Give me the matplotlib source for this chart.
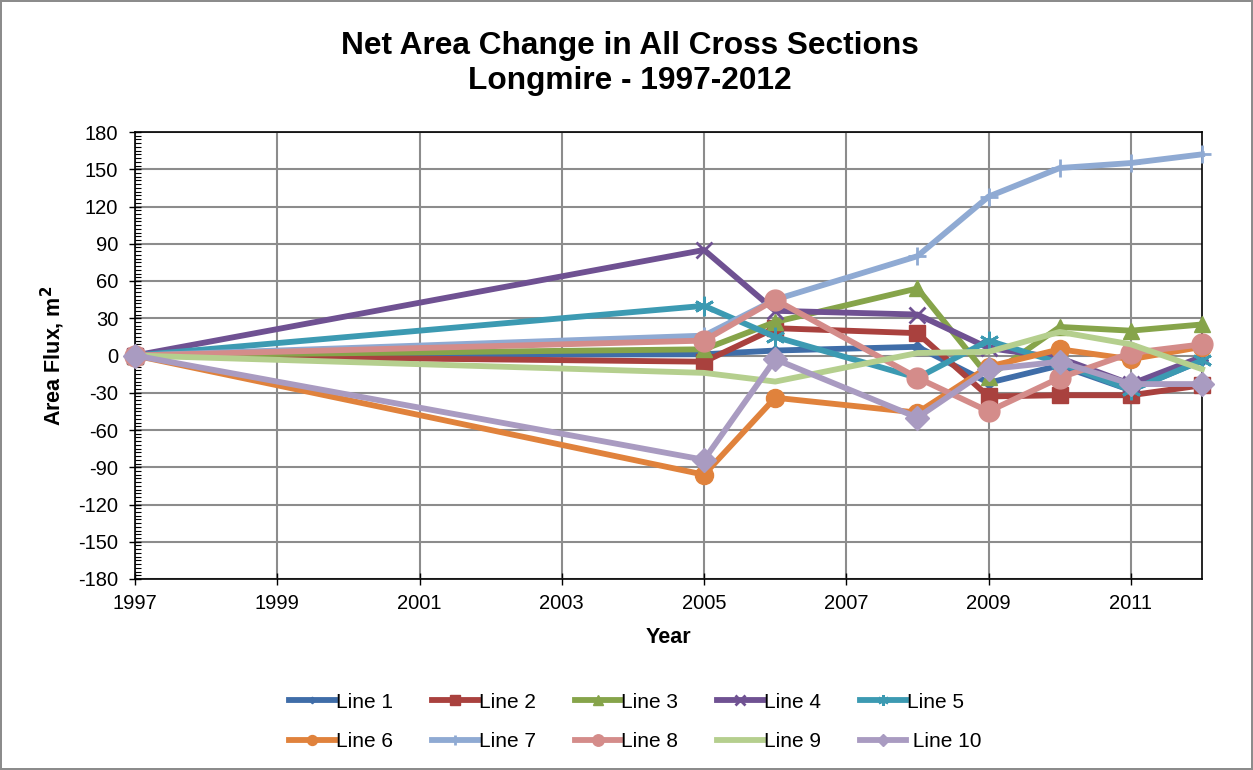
import matplotlib
matplotlib.use("Agg")
import matplotlib.pyplot as plt
from matplotlib.ticker import MultipleLocator

years = [1997, 2005, 2006, 2008, 2009, 2010, 2011, 2012]

line1 = [0, 1, 4, 7, -22, -8, -28, -4]
line2 = [0, -5, 22, 18, -33, -32, -32, -24]
line3 = [0, 5, 27, 54, -17, 23, 20, 25]
line4 = [0, 85, 36, 33, 6, -2, -23, -1]
line5 = [0, 40, 15, -18, 12, -6, -28, -4]
line6 = [0, -96, -34, -46, -9, 5, -3, 7]
line7 = [0, 16, 45, 80, 128, 151, 155, 162]
line8 = [0, 12, 45, -18, -45, -18, 2, 9]
line9 = [0, -14, -21, 2, 3, 19, 9, -11]
line10 = [0, -84, -3, -50, -11, -5, -23, -23]

labels = ["Line 1", "Line 2", "Line 3", "Line 4", "Line 5",
          "Line 6", "Line 7", "Line 8", "Line 9", " Line 10"]
series = [line1, line2, line3, line4, line5, line6, line7, line8, line9, line10]

colors = ["#3F6DA8", "#A9413E", "#86A44A", "#6F5192", "#3C9AB2",
          "#E0823C", "#8FAAD3", "#D48C8A", "#B5CF8E", "#A99BC1"]
markers = ["D", "s", "^", "x", (6, 2, 0), "o", "+", "o", "None", "D"]
msizes = [6, 12, 12, 12, 14, 13, 13, 15, 0, 12]

plt.rcParams['font.family'] = ['Liberation Sans', 'DejaVu Sans']
plt.rcParams['axes.unicode_minus'] = False

fig = plt.figure(figsize=(12.53, 7.70), dpi=100)
fig.patch.set_edgecolor("#8C8C8C")
fig.patch.set_linewidth(1.5)

ax = fig.add_axes([135/1253, 1 - 579/770, (1202-135)/1253, (579-132)/770])

for s, lab, c, m, ms in zip(series, labels, colors, markers, msizes):
    mew = 2 if m in ("x", "+") or isinstance(m, tuple) else 1
    ax.plot(years, s, color=c, lw=4.2, marker=m, markersize=ms,
            markeredgewidth=mew, markeredgecolor=c, markerfacecolor=c,
            label=lab, solid_joinstyle="round", clip_on=False, zorder=3)

ax.set_xlim(1997, 2012)
ax.set_ylim(-180, 180)
ax.set_xticks(list(range(1997, 2012, 2)))
ax.set_yticks(list(range(-180, 181, 30)))
ax.yaxis.set_minor_locator(MultipleLocator(3))
ax.grid(True, which="major", color="#8C8C8C", lw=1.5)
ax.set_axisbelow(True)
for sp in ax.spines.values():
    sp.set_color("black")
    sp.set_linewidth(1.2)
ax.tick_params(axis="both", which="major", direction="inout", length=8,
               labelsize=14.5, width=1)
ax.tick_params(axis="y", which="minor", direction="in", length=4, width=0.8)
ax.tick_params(axis="x", which="major", pad=7)
ax.tick_params(axis="y", which="major", pad=8)

ax.set_xlabel("Year", fontsize=15.5, fontweight="bold", labelpad=10)
ax.set_ylabel("Area Flux, m$^\\mathbf{2}$", fontsize=15.5, fontweight="bold", labelpad=8)

fig.text(0.503, 1 - 46/770, "Net Area Change in All Cross Sections",
         ha="center", va="center", fontsize=22.8, fontweight="bold")
fig.text(0.503, 1 - 81/770, "Longmire - 1997-2012",
         ha="center", va="center", fontsize=22.8, fontweight="bold")

handles, labs = ax.get_legend_handles_labels()
order = [0, 5, 1, 6, 2, 7, 3, 8, 4, 9]
leg = fig.legend([handles[i] for i in order], [labs[i] for i in order],
                 ncol=5, loc="center",
                 bbox_to_anchor=(0.507, 1 - 722/770), frameon=False,
                 fontsize=15, handlelength=2.2, handletextpad=0.05,
                 columnspacing=1.87, markerscale=0.55, labelspacing=1.0)

fig.savefig("out.png", dpi=100)
